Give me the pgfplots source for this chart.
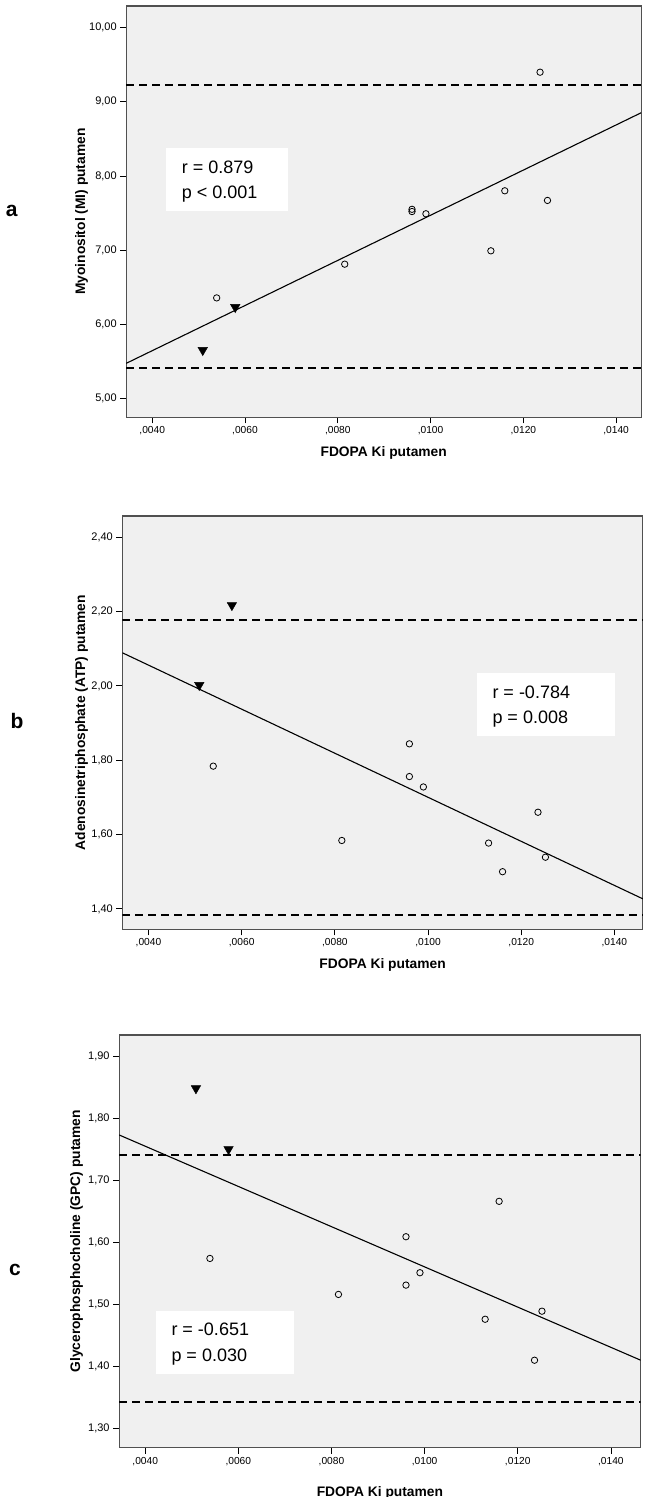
\documentclass[border=0pt]{standalone}
\usepackage{pgfplots}
\pgfplotsset{compat=1.18}
\usepackage{fontspec}
\setmainfont{Liberation Sans}

\definecolor{plotbg}{RGB}{240,240,240}
\definecolor{frameline}{RGB}{80,80,80}

\pgfplotsset{
  spss/.style={
    scale only axis,
    anchor=north west,
    axis background/.style={fill=plotbg},
    axis line style={frameline, line width=1.1pt},
    tick pos=left,
    tick align=outside,
    major tick length=6pt,
    every tick/.style={black, line width=0.8pt},
    xtick={0.004,0.006,0.008,0.010,0.012,0.014},
    xticklabels={{\textup{,0040}},{\textup{,0060}},{\textup{,0080}},{\textup{,0100}},{\textup{,0120}},{\textup{,0140}}},
    scaled x ticks=false,
    scaled y ticks=false,
    /pgf/number format/assume math mode=true,
    x tick label style={font=\fontsize{10.2}{12}\selectfont},
    y tick label style={font=\fontsize{11}{12}\selectfont},
    yticklabel style={/pgf/number format/fixed, /pgf/number format/fixed zerofill,
      /pgf/number format/precision=2, /pgf/number format/use comma},
    label style={font=\fontsize{13.8}{16}\selectfont\bfseries},
    xlabel={FDOPA Ki putamen},
    xlabel style={anchor=center},
    ylabel style={anchor=center},
  },
  refline/.style={black, line width=2pt, dash pattern=on 8pt off 5pt},
  fitline/.style={black, line width=1.1pt},
  circ/.style={only marks, mark=o, mark size=3.2pt, mark options={black, line width=0.8pt}},
  tri/.style={only marks, mark=triangle*, mark size=5.5pt, mark options={black, fill=black, rotate=180}},
}

\begin{document}
\begin{tikzpicture}
\useasboundingbox (0,0) rectangle (649pt,-1497pt);

% ---- a ----
\begin{axis}[spss, at={(126.2pt,-6pt)}, width=515pt, height=411.3pt,
  xmin=0.00344, xmax=0.01454, ymin=4.744, ymax=10.293,
  ytick={5,6,7,8,9,10},
  ylabel={Myoinositol (MI) putamen},
  xlabel style={at={(axis description cs:0.5,-0.0875)}},
  ylabel style={at={(axis description cs:-0.0868,0.5)}}]
\addplot[refline] coordinates {(0.00344,9.227) (0.01454,9.227)};
\addplot[refline] coordinates {(0.00344,5.41) (0.01454,5.41)};
\addplot[fitline] coordinates {(0.00344,5.472) (0.01454,8.853)};
\addplot[circ] table {
x y
0.00539 6.355
0.00815 6.81
0.0096 7.55
0.0096 7.52
0.0099 7.49
0.0113 6.99
0.0116 7.80
0.01236 9.40
0.01252 7.67
};
\addplot[tri] table {
x y
0.00509 5.65
0.00579 6.23
};
\end{axis}

% ---- b ----
\begin{axis}[spss, at={(122.4pt,-516pt)}, width=520.4pt, height=413.3pt,
  xmin=0.00344, xmax=0.01461, ymin=1.345, ymax=2.457,
  ytick={1.4,1.6,1.8,2.0,2.2,2.4},
  ylabel={Adenosinetriphosphate (ATP) putamen},
  xlabel style={at={(axis description cs:0.5,-0.087)}},
  ylabel style={at={(axis description cs:-0.0786,0.5)}}]
\addplot[refline] coordinates {(0.00344,2.178) (0.01461,2.178)};
\addplot[refline] coordinates {(0.00344,1.383) (0.01461,1.383)};
\addplot[fitline] coordinates {(0.00344,2.089) (0.01461,1.427)};
\addplot[circ] table {
x y
0.00539 1.784
0.00815 1.584
0.0096 1.844
0.0096 1.756
0.0099 1.728
0.0113 1.577
0.0116 1.500
0.01236 1.660
0.01252 1.539
};
\addplot[tri] table {
x y
0.00509 2.002
0.00579 2.217
};
\end{axis}

% ---- c ----
\begin{axis}[spss, at={(119.1pt,-1035pt)}, width=521.6pt, height=412.7pt,
  xmin=0.00344, xmax=0.01464, ymin=1.269, ymax=1.934,
  ytick={1.3,1.4,1.5,1.6,1.7,1.8,1.9},
  ylabel={Glycerophosphocholine (GPC) putamen},
  xlabel style={at={(axis description cs:0.5,-0.109)}},
  ylabel style={at={(axis description cs:-0.0817,0.5)}}]
\addplot[refline] coordinates {(0.00344,1.740) (0.01464,1.740)};
\addplot[refline] coordinates {(0.00344,1.342) (0.01464,1.342)};
\addplot[fitline] coordinates {(0.00344,1.773) (0.01464,1.410)};
\addplot[circ] table {
x y
0.00539 1.574
0.00815 1.516
0.0096 1.609
0.0096 1.531
0.0099 1.551
0.0113 1.476
0.0116 1.666
0.01236 1.410
0.01252 1.489
};
\addplot[tri] table {
x y
0.00509 1.848
0.00579 1.750
};
\end{axis}

% stat boxes
\tikzset{stat/.style={anchor=base west, inner sep=0pt, font=\fontsize{18}{20}\selectfont}}
\fill[white] (166.3pt,-148.3pt) rectangle (288.3pt,-211pt);
\node[stat] at (181.6pt,-173.1pt) {r = 0.879};
\node[stat] at (181.6pt,-198.7pt) {p < 0.001};
\fill[white] (477.4pt,-673.3pt) rectangle (615.1pt,-735.7pt);
\node[stat] at (492.3pt,-698.1pt) {r = -0.784};
\node[stat] at (492.3pt,-723.1pt) {p = 0.008};
\fill[white] (156pt,-1311pt) rectangle (293.7pt,-1373.7pt);
\node[stat] at (171.3pt,-1335.7pt) {r = -0.651};
\node[stat] at (171.3pt,-1361.4pt) {p = 0.030};

% panel letters
\tikzset{letter/.style={anchor=base, inner sep=0pt, font=\fontsize{21}{24}\selectfont\bfseries}}
\node[letter] at (11.6pt,-216pt) {a};
\node[letter] at (17pt,-728.3pt) {b};
\node[letter] at (15pt,-1275pt) {c};
\end{tikzpicture}
\end{document}
